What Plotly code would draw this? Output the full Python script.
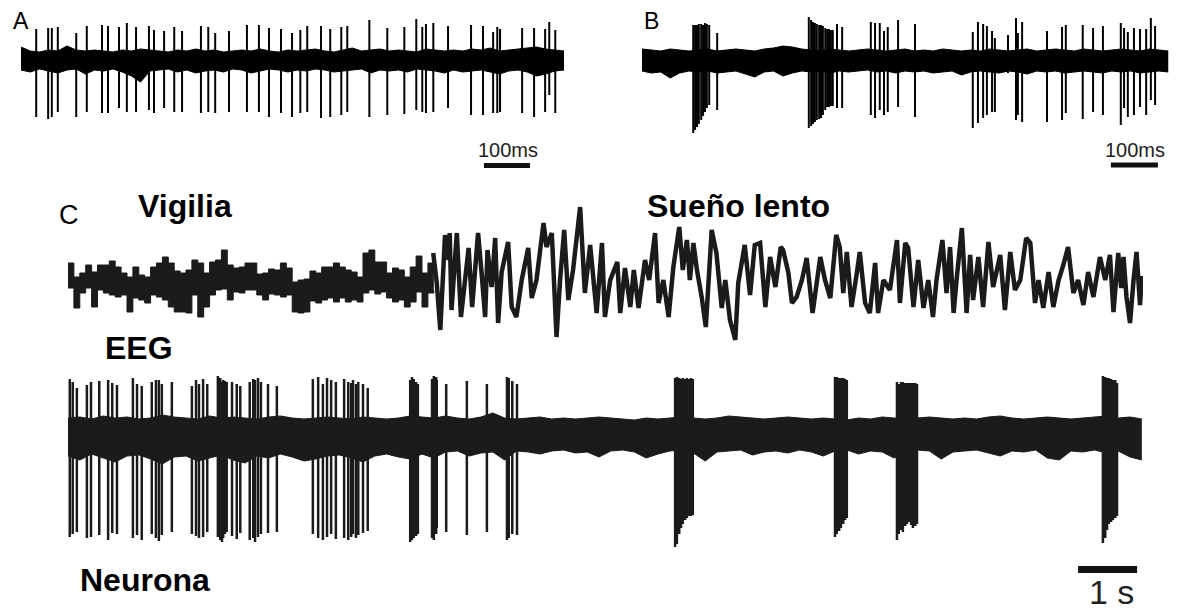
import plotly.graph_objects as go

# page offset of the plot inside the browser page (default body margin)
OFF = 8
W, H = 1177 - OFF, 613 - OFF

# ---------------- Panel A : unit during wakefulness (ms, a.u.) ----------------
a_env_step_ms = 20
a_env_hi = [13, 9, 8, 10, 9, 14, 10, 9, 10, 9, 8, 10, 9, 11, 10, 9, 8, 10, 9, 11,
            9, 10, 8, 9, 10, 9, 11, 9, 8, 10, 9, 10, 11, 9, 8, 10, 12, 9, 10, 11,
            9, 10, 9, 8, 11, 10, 9, 10, 9, 11, 10, 12, 9, 10, 11, 12, 13, 11, 10, 9]
a_env_lo = [10, 12, 9, 11, 13, 10, 9, 14, 10, 11, 9, 12, 16, 22, 11, 10, 9, 12, 10, 13,
            11, 10, 12, 9, 10, 13, 11, 9, 10, 12, 10, 11, 9, 10, 12, 11, 10, 9, 13, 10,
            11, 10, 12, 9, 10, 11, 13, 10, 12, 11, 10, 12, 14, 11, 10, 12, 16, 14, 11, 10]
a_spk_t = [33, 59, 67, 80, 120, 143, 176, 189, 213, 230, 250, 278, 289, 311, 333, 350, 391,
           407, 422, 452, 491, 517, 539, 565, 589, 607, 622, 652, 672, 696, 709, 757, 796,
           833, 859, 872, 880, 896, 928, 978, 1004, 1026, 1035, 1041, 1089, 1115, 1139,
           1148, 1161]
a_spk_up = [31, 32, 32, 33, 27, 34, 35, 34, 33, 37, 33, 34, 30, 29, 33, 29, 34, 33, 27, 29,
            35, 35, 32, 31, 27, 30, 34, 34, 31, 33, 34, 40, 32, 33, 41, 33, 36, 37, 34, 35,
            34, 28, 33, 31, 32, 32, 31, 38, 30]
a_spk_dn = [57, 59, 57, 52, 57, 52, 53, 53, 48, 52, 52, 50, 53, 48, 52, 52, 53, 52, 53, 52,
            52, 52, 57, 53, 57, 53, 52, 58, 57, 55, 52, 57, 55, 54, 50, 52, 53, 52, 48, 55,
            55, 53, 53, 52, 53, 57, 52, 35, 53]

# ---------------- Panel B : unit during slow-wave sleep (ms, a.u.) ----------------
b_env_step_ms = 20
b_env_hi = [11, 10, 9, 11, 10, 9, 10, 11, 9, 10, 11, 10, 9, 11, 12, 14, 13, 11, 10, 9,
            11, 10, 9, 10, 11, 10, 9, 10, 11, 9, 10, 9, 11, 10, 9, 10, 9, 11, 10, 9,
            10, 11, 9, 10, 11, 10, 9, 11, 10, 9, 10, 11, 10, 9, 11, 10, 9]
b_env_lo = [11, 13, 12, 18, 13, 11, 12, 11, 13, 12, 11, 14, 17, 12, 11, 16, 13, 11, 12, 11,
            13, 11, 12, 11, 10, 12, 11, 13, 11, 12, 11, 13, 12, 11, 15, 12, 11, 12, 13, 11,
            12, 14, 11, 12, 11, 13, 12, 11, 12, 13, 11, 12, 11, 13, 12, 11, 12]
b_spk_t = [109, 113, 117, 121, 126, 130, 134, 138, 143, 160,
           355, 360, 364, 368, 372, 377, 381, 385, 390, 394, 398, 402, 406,
           415, 426, 487, 496, 506, 515, 523,
           545, 581, 704, 715, 726, 734, 745, 751, 779, 796, 800, 809, 862, 894, 902, 938,
           960, 981, 1019, 1026, 1034, 1047, 1060, 1073, 1083, 1092]
b_spk_up = [35, 35, 35, 36, 36, 35, 37, 36, 35, 27,
            43, 40, 38, 37, 36, 35, 35, 34, 32, 31, 31, 30, 30,
            36, 33, 38, 37, 37, 29, 33,
            40, 36, 28, 38, 36, 34, 29, 22, 25, 42, 27, 38, 29, 33, 35, 35, 32, 34, 37, 32,
            28, 32, 31, 31, 42, 34]
b_spk_dn = [73, 70, 67, 64, 60, 56, 52, 48, 45, 50,
            68, 66, 64, 62, 60, 59, 58, 55, 50, 47, 47, 46, 46,
            48, 48, 55, 58, 50, 55, 52,
            47, 57, 68, 63, 58, 55, 52, 52, 13, 60, 55, 62, 62, 60, 53, 59, 52, 55, 65, 48,
            57, 55, 47, 55, 40, 45]

# ---------------- Panel C : EEG, wake part as min/max envelope (s, a.u.) ----------------
eeg_w_step_s = 0.1
eeg_w_hi = [20, 6, 10, 18, 11, 18, 18, 22, 16, 10, 6, 16, 8, 6, 16, 20, 26, 20, 12, 10,
            13, 23, 20, 10, 21, 23, 33, 18, 15, 16, 20, 20, 9, 10, 14, 13, 20, 15, 1, 3,
            4, 12, 10, 16, 16, 20, 16, 13, 11, 6, 30, 33, 21, 21, 10, 15, 13, 6, 16, 27,
            10, 20, 28]
eeg_w_lo = [-5, -25, -10, -5, -24, -7, -10, -12, -14, -12, -29, -15, -17, -20, -12, -14,
            -17, -24, -29, -29, -30, -12, -34, -24, -12, -7, -6, -17, -9, -10, -7, -7, -12,
            -17, -11, -12, -14, -12, -29, -30, -29, -18, -20, -17, -15, -19, -15, -19, -17,
            -19, -10, -7, -11, -9, -15, -19, -17, -24, -19, -9, -24, -10, -7]

# ---------------- Panel C : EEG, slow-wave part as a trace (s, a.u.) ----------------
eeg_t = [6.19, 6.25, 6.31, 6.39, 6.45, 6.47, 6.50, 6.59, 6.66, 6.73, 6.79, 6.85, 6.95,
         7.01, 7.07, 7.11, 7.18, 7.24, 7.29, 7.35, 7.46, 7.52, 7.60, 7.69, 7.80, 7.86, 7.94,
         8.06, 8.11, 8.20, 8.28, 8.34, 8.41, 8.48, 8.56, 8.68, 8.76, 8.85, 8.90, 8.96, 9.05,
         9.10, 9.19, 9.31, 9.36, 9.44, 9.53, 9.59, 9.67, 9.78, 9.85, 9.95, 10.01, 10.09,
         10.18, 10.26, 10.36, 10.42, 10.49, 10.54, 10.60, 10.66, 10.74, 10.81, 10.91, 10.99,
         11.08, 11.14, 11.22, 11.31, 11.36, 11.47, 11.56, 11.64, 11.73, 11.82, 11.90, 11.99,
         12.08,
         12.12, 12.21, 12.27, 12.35, 12.44, 12.52, 12.62, 12.75, 12.83, 12.92, 13.02, 13.08,
         13.14, 13.20, 13.28, 13.37, 13.42, 13.51, 13.59, 13.68, 13.73, 13.82, 13.93, 14.05,
         14.10, 14.19, 14.24, 14.33, 14.41, 14.50, 14.58, 14.66, 14.72, 14.82, 14.89, 14.95,
         15.01, 15.06, 15.15, 15.23, 15.29, 15.34, 15.43, 15.51, 15.60, 15.68, 15.80, 15.88,
         15.97, 16.05, 16.14, 16.24, 16.31, 16.39, 16.45, 16.53, 16.62, 16.70, 16.79, 16.87,
         16.95, 17.04, 17.12, 17.21, 17.29, 17.38, 17.49, 17.58, 17.66, 17.72, 17.80, 17.85,
         17.89, 17.94, 18.00, 18.06, 18.11, 18.17, 18.20]
eeg_v = [30, 0, -47, 48, 23, 50, -27, 50, -34, 3, 35, -24, 50, 10, -34, 33, -4, 45, -40,
         11, 41, -24, -34, 3, 35, -15, 3, 60, 36, 50, -54, 3, 53, -17, 13, 76, -10, 38, 3,
         -30, 40, -34, 3, 21, -30, 15, -24, 13, -25, 23, 3, 50, -20, 3, -34, 16, 56, 13, 43,
         3, 40, 13, -14, -44, 53, 30, -25, 3, -37, -57, 0, 38, -12, 38, 40, -24, 26, -4, 36,
         33, 10, -20, -14, 3, 25, -30, 26, 3, -15, 48, 36, -10, 31, -24, 10, 31, -20, -30, 20,
         -30, 3, -7, 43, -20, 40, 35, -24, 23, -25, 3, -34, 3, 43, -10, 36, -30, 3, 55, -30,
         28, -17, 26, -24, 41, -4, 28, -27, 31, -7, 3, 45, 40, -20, 3, -25, 11, -24, 3, 18,
         36, -10, 3, -22, 11, -14, 26, 3, 28, -29, 30, -5, 26, -14, -40, 3, 31, -22, 7]

# ---------------- Panel C : neuron (s, a.u.) ----------------
neu_env_step_s = 0.2
neu_env_hi = [16, 17, 15, 18, 16, 17, 15, 16, 19, 17, 16, 15, 18, 16, 17, 16, 15, 17, 18, 16,
              15, 16, 17, 16, 15, 17, 16, 15, 16, 18,
              17, 16, 18, 16, 15, 17, 21, 16, 15, 16, 17, 15, 16, 15, 16, 17, 16, 15, 14, 16,
              15, 16, 17, 16, 15, 16, 18, 17, 16, 15, 16, 17, 16, 15, 16, 15, 14, 16, 15, 17,
              16, 15, 16, 17, 16, 15, 16, 15, 17, 18, 16, 15, 16, 17, 16, 15, 16, 17, 18, 16,
              17, 15]
neu_env_lo = [22, 26, 20, 24, 28, 22, 21, 25, 30, 23, 22, 27, 24, 21, 26, 29, 22, 24, 20, 23,
              27, 25, 22, 21, 24, 28, 22, 20, 23, 25,
              20, 24, 18, 17, 22, 19, 18, 26, 17, 18, 20, 17, 16, 19, 18, 23, 17, 16, 18, 24,
              20, 17, 16, 19, 27, 18, 17, 16, 21, 18, 17, 19, 16, 18, 22, 17, 16, 20, 17, 18,
              24, 19, 16, 17, 25, 18, 17, 16, 19, 22, 17, 18, 16, 24, 26, 17, 18, 16, 19, 17,
              23, 26]
neu_spk_t = [0.03, 0.08, 0.15, 0.32, 0.39, 0.53, 0.68, 0.75, 0.83, 1.10, 1.17, 1.25, 1.42,
             1.49, 1.54, 1.59, 1.76, 2.10, 2.17, 2.22, 2.29, 2.36, 2.54, 2.58, 2.61, 2.63,
             2.66, 2.69, 2.78, 2.86, 2.92, 3.08, 3.14, 3.17, 3.22, 3.27, 3.39, 3.54, 4.15,
             4.24, 4.32, 4.39, 4.46, 4.54, 4.68, 4.75, 4.80, 4.83, 4.88, 4.92, 5.00, 5.08,
             5.80, 5.83, 5.86, 5.90, 5.93, 6.17, 6.20, 6.24, 6.25, 6.41, 6.76, 7.10, 7.44,
             7.47, 7.53, 7.61,
             10.29, 10.32, 10.36, 10.39, 10.42, 10.46, 10.49, 10.53, 10.56, 10.59,
             13.00, 13.03, 13.07, 13.10, 13.14, 13.17, 13.20,
             14.05, 14.08, 14.12, 14.15, 14.19, 14.22, 14.25, 14.29, 14.32, 14.36, 14.39,
             17.54, 17.58, 17.61, 17.64, 17.68, 17.71, 17.75, 17.78]
neu_spk_up = [55, 52, 46, 49, 52, 53, 54, 51, 49, 56, 50, 48, 52, 54, 54, 50, 52, 48, 54, 50,
              55, 50, 58, 56, 52, 54, 53, 52, 52, 50, 48, 52, 55, 54, 56, 52, 50, 48, 55, 57,
              50, 56, 54, 52, 55, 52, 51, 54, 50, 52, 50, 46, 54, 57, 55, 52, 50, 55, 58, 57,
              54, 50, 53, 50, 57, 56, 53, 50,
              56, 57, 56, 55, 56, 55, 56, 55, 56, 55,
              57, 57, 56, 56, 56, 55, 54,
              52, 50, 52, 52, 51, 51, 51, 51, 51, 51, 50,
              58, 57, 56, 56, 55, 54, 54, 51]
neu_spk_dn = [103, 100, 98, 104, 103, 101, 106, 99, 100, 104, 101, 106, 100, 104, 107, 101,
              98, 100, 102, 104, 103, 98, 103, 106, 108, 104, 100, 98, 102, 105, 99, 106,
              104, 108, 103, 100, 99, 98, 100, 104, 106, 103, 100, 105, 104, 106, 103, 100,
              104, 101, 99, 97, 108, 106, 104, 102, 100, 104, 106, 100, 94, 98, 101, 98, 106,
              104, 100, 101,
              113, 110, 100, 94, 90, 86, 84, 82, 82, 81,
              103, 100, 97, 94, 90, 86, 84,
              106, 100, 96, 98, 92, 90, 88, 91, 94, 92, 90,
              109, 104, 96, 90, 88, 86, 84, 82]

# scale bars (data units)
bar_ms = 100
bar_s = 1


# ---------------- helpers ----------------
def px_x(px):
    return (px - OFF) / W


def px_y(py):
    return 1 - (py - OFF) / H


def spikes(t, up, dn):
    xs, ys = [], []
    for ti, u, d in zip(t, up, dn):
        xs += [ti, ti, None]
        ys += [u, -d, None]
    return xs, ys


fig = go.Figure()


def band(step, hi, lo, xa, ya, color, signed_lo=False, shape="linear"):
    t = [round(i * step, 4) for i in range(len(hi))]
    low = lo if signed_lo else [-v for v in lo]
    fig.add_trace(go.Scatter(x=t, y=low, mode="lines",
                             line=dict(color=color, width=1, shape=shape),
                             xaxis=xa, yaxis=ya, hoverinfo="skip", showlegend=False))
    fig.add_trace(go.Scatter(x=t, y=hi, mode="lines", fill="tonexty", fillcolor=color,
                             line=dict(color=color, width=1, shape=shape),
                             xaxis=xa, yaxis=ya, hoverinfo="skip", showlegend=False))


def spike_trace(t, up, dn, xa, ya, color, width):
    xs, ys = spikes(t, up, dn)
    fig.add_trace(go.Scatter(x=xs, y=ys, mode="lines", line=dict(color=color, width=width),
                             xaxis=xa, yaxis=ya, hoverinfo="skip", showlegend=False,
                             connectgaps=False))


def bar(x0, length, y, xa, ya, width):
    fig.add_trace(go.Scatter(x=[x0, x0 + length], y=[y, y], mode="lines",
                             line=dict(color="#111111", width=width),
                             xaxis=xa, yaxis=ya, hoverinfo="skip", showlegend=False))


BLACK = "#000000"
DARK = "#1b1b1b"

# Panel A
band(a_env_step_ms, a_env_hi, a_env_lo, "x", "y", BLACK)
spike_trace(a_spk_t, a_spk_up, a_spk_dn, "x", "y", BLACK, 2)
bar(1006, bar_ms, -105.5, "x", "y", 5)

# Panel B
band(b_env_step_ms, b_env_hi, b_env_lo, "x2", "y2", BLACK)
spike_trace(b_spk_t, b_spk_up, b_spk_dn, "x2", "y2", BLACK, 2)
bar(998, bar_ms, -105, "x2", "y2", 5)

# Panel C EEG
band(eeg_w_step_s, eeg_w_hi, eeg_w_lo, "x3", "y3", DARK, signed_lo=True, shape="hv")
fig.add_trace(go.Scatter(x=eeg_t, y=eeg_v, mode="lines", line=dict(color=DARK, width=4.5),
                         xaxis="x3", yaxis="y3", hoverinfo="skip", showlegend=False))

# Panel C neuron
band(neu_env_step_s, neu_env_hi, neu_env_lo, "x4", "y4", DARK)
spike_trace(neu_spk_t, neu_spk_up, neu_spk_dn, "x4", "y4", DARK, 2.5)
bar(17.12, bar_s, -135.5, "x4", "y4", 7)


def xax(p0, p1, rng, anchor):
    return dict(domain=[px_x(p0), px_x(p1)], range=rng, visible=False, fixedrange=True,
                anchor=anchor)


def yax(p_top, p_bot, rng, anchor):
    return dict(domain=[max(0, px_y(p_bot)), min(1, px_y(p_top))], range=rng,
                visible=False, fixedrange=True, anchor=anchor)


NARROW = "Liberation Sans Narrow, Liberation Sans, Arial, sans-serif"
SANS = "Liberation Sans, Arial, sans-serif"


def lab(text, px, py, size, family=SANS, xanchor="left", color="#000000"):
    return dict(text=text, x=px_x(px), y=px_y(py), xref="paper", yref="paper",
                showarrow=False, xanchor=xanchor, yanchor="middle",
                font=dict(family=family, size=size, color=color))


fig.update_layout(
    width=W, height=H, margin=dict(l=0, r=0, t=0, b=0),
    paper_bgcolor="white", plot_bgcolor="white", showlegend=False,
    xaxis=xax(21, 564, [0, 1180], "y"),
    yaxis=yax(8, 180, [-120, 52], "x"),
    xaxis2=xax(642, 1172, [0, 1128], "y2"),
    yaxis2=yax(8, 180, [-120, 52], "x2"),
    xaxis3=xax(68, 1143, [0, 18.22], "y3"),
    yaxis3=yax(190, 350, [-67, 93], "x3"),
    xaxis4=xax(68, 1143, [0, 18.22], "y4"),
    yaxis4=yax(360, 613, [-179, 74], "x4"),
    annotations=[
        lab("A", 11, 21.5, 23, NARROW),
        lab("B", 642, 21.5, 23, NARROW),
        lab("100ms", 508, 150, 20, SANS, "center", "#222222"),
        lab("100ms", 1135, 150, 20, SANS, "center", "#222222"),
        lab("C", 57, 215, 27, NARROW),
        lab("<b>Vigilia</b>", 136, 206, 32),
        lab("<b>Sueño lento</b>", 645, 206, 32),
        lab("<b>EEG</b>", 103, 348, 32),
        lab("<b>Neurona</b>", 78, 580, 32),
        lab("1 s", 1111, 592, 34, SANS, "center", "#222222"),
    ],
)

fig.write_html("out.html")
